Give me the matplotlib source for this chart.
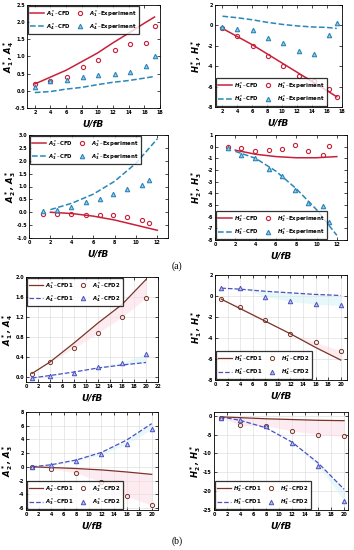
import numpy as np
import matplotlib
matplotlib.use('Agg')
import matplotlib.pyplot as plt

plt.rcParams['font.family'] = ['DejaVu Sans']
plt.rcParams['font.weight'] = 'bold'

# ---------- (a) 数据 ----------
xa1 = [2, 4, 6, 8, 10, 12, 14, 16, 17.3]
xa1_exp = [2, 4, 6.1, 8.1, 10.1, 12.2, 14.2, 16.2, 17.3]
A1_cfd = [0.2, 0.4, 0.6, 0.85, 1.1, 1.4, 1.68, 1.97, 2.15]
A1_exp = [0.2, 0.3, 0.4, 0.7, 0.9, 1.2, 1.35, 1.4, 1.9]
A4_cfd = [-0.05, -0.02, 0.05, 0.1, 0.18, 0.25, 0.3, 0.37, 0.42]
A4_exp = [0.1, 0.28, 0.33, 0.4, 0.45, 0.5, 0.55, 0.72, 1.0]
H1_cfd = [-0.3, -1.1, -1.9, -2.8, -3.7, -4.6, -5.5, -6.4, -7.0]
H1_exp = [-0.3, -1.0, -2.0, -3.0, -4.0, -5.0, -5.5, -6.2, -7.0]
H4_cfd = [0.9, 0.75, 0.55, 0.3, 0.1, -0.05, -0.15, -0.2, -0.3]
H4_exp = [-0.2, -0.4, -0.5, -1.2, -1.7, -2.5, -2.8, -0.9, 0.2]

xa2 = [2, 4, 6, 8, 10, 12]
xa2_exp = [1.3, 2.6, 3.95, 5.3, 6.6, 7.9, 9.2, 10.6, 11.2]
A2_cfd = [0.0, -0.05, -0.15, -0.3, -0.5, -0.7]
A2_exp = [-0.05, -0.05, -0.05, -0.1, -0.1, -0.1, -0.2, -0.3, -0.4]
A3_cfd = [0.1, 0.35, 0.7, 1.2, 1.9, 2.85]
A3_exp = [0.05, 0.1, 0.2, 0.4, 0.5, 0.7, 0.9, 1.05, 1.25]
H2_cfd = [-0.3, -0.65, -0.85, -0.95, -0.95, -0.85]
H2_exp = [-0.05, -0.1, -0.4, -0.3, -0.2, 0.1, -0.4, -0.7, 0.05]
H3_cfd = [-0.4, -1.0, -2.1, -3.6, -5.4, -7.6]
H3_exp = [-0.1, -0.7, -1.0, -1.9, -2.5, -3.7, -4.8, -5.1, -6.5]

# ---------- (b) 数据 ----------
xb = [1, 4, 8, 12, 16, 20]
bA1_cfd1 = [0.07, 0.3, 0.68, 1.08, 1.45, 1.95]
bA1_cfd2 = [0.07, 0.3, 0.58, 0.88, 1.2, 1.58]
bA4_cfd1 = [-0.02, 0.03, 0.1, 0.18, 0.24, 0.29]
bA4_cfd2 = [-0.02, 0.02, 0.09, 0.21, 0.29, 0.46]
bH1_cfd1 = [-0.3, -1.2, -2.4, -3.6, -4.9, -6.1]
bH1_cfd2 = [-0.3, -1.0, -2.3, -3.6, -4.4, -5.2]
bH4_cfd1 = [0.75, 0.65, 0.45, 0.3, 0.15, 0.05]
bH4_cfd2 = [0.75, 0.8, -0.05, -0.5, -0.8, -0.9]
bA2_cfd1 = [0.0, -0.1, -0.25, -0.45, -0.75, -1.1]
bA2_cfd2 = [0.0, -0.3, -0.9, -2.2, -4.3, -5.6]
bA3_cfd1 = [0.0, 0.3, 1.0, 2.1, 3.9, 6.3]
bA3_cfd2 = [0.0, 0.2, 0.8, 1.8, 3.3, 5.5]
bH2_cfd1 = [-0.3, -0.5, -0.8, -1.0, -1.2, -1.3]
bH2_cfd2 = [-0.5, -2.5, -2.7, -4.0, -5.0, -5.5]
bH3_cfd1 = [-0.3, -1.2, -3.2, -7.0, -12.5, -19.5]
bH3_cfd2 = [-0.5, -1.0, -2.8, -7.2, -13.2, -22.5]

RED = '#c8203a'
BLUE = '#2a86b8'
BROWN = '#7a3326'
PURP = '#4a52c0'

W, H = 354, 550
fig = plt.figure(figsize=(W / 100, H / 100), dpi=100)


def px(l, t, r, b):
    return [l / W, 1 - b / H, (r - l) / W, (b - t) / H]


def style(ax, xlim, ylim, xt, yt, ylab, grid=False, fmt='%.1f'):
    ax.set_xlim(*xlim)
    ax.set_ylim(*ylim)
    ax.set_xticks(xt)
    ax.set_yticks(yt)
    ax.set_yticklabels([fmt % v for v in yt])
    ax.tick_params(direction='in', labelsize=3.5, length=2, width=0.5, pad=1.5,
                   top=True, right=True)
    for s in ax.spines.values():
        s.set_linewidth(0.6)
    ax.set_xlabel('U/fB', fontsize=6.5, style='italic', fontweight='bold', labelpad=3)
    ax.set_ylabel(ylab, fontsize=6, style='italic', fontweight='bold')
    wpx = ax.get_position().width * W
    ax.yaxis.set_label_coords(-11 / wpx, 0.5)
    if grid:
        ax.grid(True, color='#d8d8d8', linewidth=0.4)
        ax.set_axisbelow(True)


def legend(ax, hs, labels, loc):
    lg = ax.legend(hs, labels, loc=loc, ncol=2, fontsize=3.9, frameon=True,
                   fancybox=False, edgecolor='black', handlelength=2.6,
                   handletextpad=0.35, columnspacing=0.5, borderpad=0.35,
                   labelspacing=0.45, borderaxespad=0.15)
    lg.get_frame().set_linewidth(0.9)


def panel_a(ax, x, y1, xe, e1, y2, e2, names, tag, loc):
    l1, = ax.plot(x, y1, color=RED, lw=1.1)
    l2, = ax.plot(x, y2, color=BLUE, lw=1.1, ls='--')
    m1, = ax.plot(xe, e1, 'o', mfc='none', mec=RED, ms=3, mew=0.8)
    m2, = ax.plot(xe, e2, '^', mfc='#9ecae8', mec=BLUE, ms=3.2, mew=0.8)
    legend(ax, [l1, l2, m1, m2],
           ['$%s$–%s' % (names[0], tag[0]), '$%s$–%s' % (names[1], tag[0]),
            '$%s$–%s' % (names[0], tag[1]), '$%s$–%s' % (names[1], tag[1])], loc)


def panel_b(ax, x, y1, e1, y2, e2, names, loc):
    ax.fill_between(x, y1, e1, color='#fbd9e2', alpha=0.5, lw=0)
    ax.fill_between(x, y2, e2, color='#d3f1f4', alpha=0.5, lw=0)
    l1, = ax.plot(x, y1, color=BROWN, lw=0.9)
    l2, = ax.plot(x, y2, color=PURP, lw=0.9, ls='--')
    m1, = ax.plot(x, e1, 'o', mfc='none', mec=BROWN, ms=3, mew=0.7)
    m2, = ax.plot(x, e2, '^', mfc='#b9bdf0', mec=PURP, ms=3.2, mew=0.7)
    legend(ax, [l1, l2, m1, m2],
           ['$%s$–CFD1' % names[0], '$%s$–CFD1' % names[1],
            '$%s$–CFD2' % names[0], '$%s$–CFD2' % names[1]], loc)


tags = ('CFD', 'Experiment')

# (a)
ax = fig.add_axes(px(27, 5, 160, 108))
panel_a(ax, xa1, A1_cfd, xa1_exp, A1_exp, A4_cfd, A4_exp, ('A_1^*', 'A_4^*'), tags, 'upper left')
style(ax, (1, 18), (-0.5, 2.5), range(2, 19, 2), np.arange(-0.5, 2.51, 0.5), '$A_1^*$, $A_4^*$')

ax = fig.add_axes(px(215, 5, 342, 107))
panel_a(ax, xa1, H1_cfd, xa1_exp, H1_exp, H4_cfd, H4_exp, ('H_1^*', 'H_4^*'), tags, 'lower left')
style(ax, (1, 18), (-8, 2), range(2, 19, 2), range(-8, 3, 2), '$H_1^*$, $H_4^*$', fmt='%d')

ax = fig.add_axes(px(29, 135, 168, 238))
panel_a(ax, xa2, A2_cfd, xa2_exp, A2_exp, A3_cfd, A3_exp, ('A_2^*', 'A_3^*'), tags, 'upper left')
style(ax, (0, 13), (-1, 3), range(0, 13, 2), np.arange(-1, 3.01, 0.5), '$A_2^*$, $A_3^*$')

ax = fig.add_axes(px(215, 135, 347, 240))
panel_a(ax, xa2, H2_cfd, xa2_exp, H2_exp, H3_cfd, H3_exp, ('H_2^*', 'H_3^*'), tags, 'lower left')
style(ax, (0, 13), (-8, 1), range(0, 13, 2), range(-8, 2, 1), '$H_2^*$, $H_3^*$', fmt='%d')

fig.text(0.5, 1 - 266 / H, '(a)', ha='center', va='center', fontsize=7,
         family='Liberation Serif', fontweight='normal')

# (b)
ax = fig.add_axes(px(26, 277, 158, 382))
panel_b(ax, xb, bA1_cfd1, bA1_cfd2, bA4_cfd1, bA4_cfd2, ('A_1^*', 'A_4^*'), 'upper left')
style(ax, (0, 22), (-0.1, 2.0), range(0, 23, 2), np.arange(0, 2.01, 0.4), '$A_1^*$, $A_4^*$', grid=True)

ax = fig.add_axes(px(215, 275, 347, 380))
panel_b(ax, xb, bH1_cfd1, bH1_cfd2, bH4_cfd1, bH4_cfd2, ('H_1^*', 'H_4^*'), 'lower left')
style(ax, (0, 21), (-8, 2), range(0, 21, 2), range(-8, 3, 2), '$H_1^*$, $H_4^*$', grid=True, fmt='%d')

ax = fig.add_axes(px(26, 412, 158, 510))
panel_b(ax, xb, bA2_cfd1, bA2_cfd2, bA3_cfd1, bA3_cfd2, ('A_2^*', 'A_3^*'), 'lower left')
style(ax, (0, 21), (-6.3, 8), range(0, 21, 2), range(-6, 9, 2), '$A_2^*$, $A_3^*$', grid=True, fmt='%d')

ax = fig.add_axes(px(214, 412, 348, 510))
panel_b(ax, xb, bH2_cfd1, bH2_cfd2, bH3_cfd1, bH3_cfd2, ('H_2^*', 'H_3^*'), 'lower left')
style(ax, (0, 20.6), (-25, 1), range(0, 21, 2), range(-25, 1, 5), '$H_2^*$, $H_3^*$', grid=True, fmt='%d')

fig.text(0.5, 1 - 541 / H, '(b)', ha='center', va='center', fontsize=7,
         family='Liberation Serif', fontweight='normal')

fig.savefig('out.png', dpi=100)
